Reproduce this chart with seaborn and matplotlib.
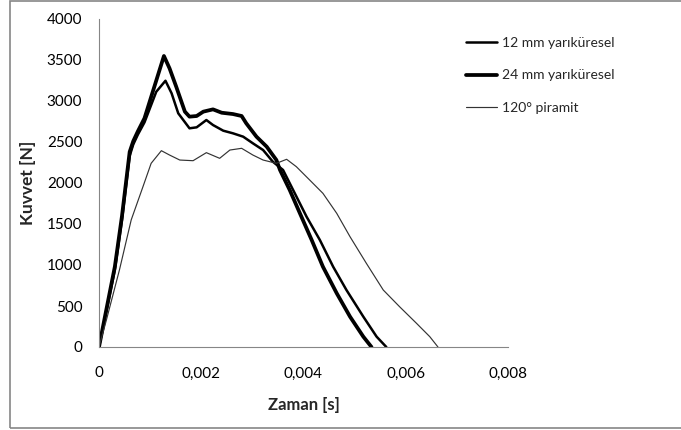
import matplotlib
matplotlib.use("Agg")
import matplotlib.pyplot as plt
import seaborn as sns
import pandas as pd
from matplotlib.patches import Rectangle

# ---- data ----
t_12 = [0, 0.00011, 0.00031, 0.00045, 0.0006, 0.00067, 0.00076, 0.00089, 0.00112, 0.0013,
        0.00142, 0.00155, 0.00177, 0.00191, 0.0021, 0.00223, 0.00243, 0.00262, 0.00282,
        0.00301, 0.00321, 0.0034, 0.0036, 0.00383, 0.00406, 0.00432, 0.00458, 0.00484,
        0.00517, 0.00543, 0.00562]
f_12 = [0, 330, 940, 1550, 2330, 2470, 2590, 2740, 3113, 3247,
        3094, 2850, 2667, 2679, 2768, 2707, 2638, 2606, 2565,
        2484, 2402, 2260, 2159, 1874, 1589, 1305, 979, 695,
        370, 126, 0]

t_24 = [0, 0.00011, 0.00031, 0.00045, 0.0006, 0.00067, 0.00076, 0.00089, 0.00127, 0.00138,
        0.00151, 0.00168, 0.00177, 0.00191, 0.00204, 0.00223, 0.0024, 0.00262, 0.00279,
        0.00288, 0.00308, 0.00328, 0.00347, 0.00354, 0.00373, 0.00393, 0.00416, 0.00438,
        0.00465, 0.00491, 0.00517, 0.00533]
f_24 = [0, 350, 980, 1600, 2380, 2510, 2630, 2790, 3549, 3398,
        3175, 2870, 2809, 2817, 2870, 2898, 2857, 2841, 2817,
        2728, 2565, 2443, 2280, 2159, 1915, 1630, 1305, 979,
        655, 370, 126, 0]

t_pyr = [0, 0.000145, 0.0004, 0.00063, 0.00086, 0.00102, 0.00122, 0.00138, 0.00158,
         0.00184, 0.0021, 0.00236, 0.00256, 0.00279, 0.00301, 0.00321, 0.00347, 0.00367,
         0.00386, 0.00412, 0.00438, 0.00465, 0.00491, 0.00523, 0.00556, 0.00588, 0.00621,
         0.00647, 0.00663]
f_pyr = [0, 330, 940, 1550, 1955, 2240, 2394, 2341, 2280,
         2272, 2370, 2301, 2402, 2423, 2341, 2280, 2240, 2289,
         2199, 2037, 1874, 1630, 1345, 1020, 695, 491, 289,
         126, 0]

series_names = ["12 mm yarıküresel", "24 mm yarıküresel", "120° piramit"]
x_ticks = [0, 0.002, 0.004, 0.006, 0.008]
x_tick_labels = ["0", "0,002", "0,004", "0,006", "0,008"]
y_ticks = [0, 500, 1000, 1500, 2000, 2500, 3000, 3500, 4000]
y_tick_labels = ["0", "500", "1000", "1500", "2000", "2500", "3000", "3500", "4000"]

sns.set_style("white")
plt.rcParams["font.family"] = ["Lato", "DejaVu Sans"]

fig = plt.figure(figsize=(6.81, 4.30), dpi=100)
ax = fig.add_axes([99/681, 83/430, 409/681, 328/430])

styles = [("black", 1.8), ("black", 2.7), ("#333333", 0.85)]
for (t, f), name, (c, lw) in zip([(t_12, f_12), (t_24, f_24), (t_pyr, f_pyr)], series_names, styles):
    df = pd.DataFrame({"t": t, "f": f})
    sns.lineplot(data=df, x="t", y="f", sort=False, color=c, linewidth=lw, label=name, ax=ax)

ax.set_xlim(0, 0.008)
ax.set_ylim(0, 4000)
ax.set_xticks(x_ticks)
ax.set_xticklabels(x_tick_labels)
ax.set_yticks(y_ticks)
ax.set_yticklabels(y_tick_labels)
ax.tick_params(axis="both", direction="out", length=5, width=0.8, color="#868686",
               labelsize=11, labelcolor="black")
ax.tick_params(axis="x", pad=9)
ax.tick_params(axis="y", pad=7)
for s in ["top", "right"]:
    ax.spines[s].set_visible(False)
for s in ["left", "bottom"]:
    ax.spines[s].set_color("#868686")
    ax.spines[s].set_linewidth(0.8)

ax.set_xlabel("Zaman [s]", fontsize=12, fontweight="bold", labelpad=12)
ax.set_ylabel("Kuvvet [N]", fontsize=12.5, fontweight="bold", labelpad=8)

leg = ax.legend(loc="upper left", bbox_to_anchor=(466/681, (430-37)/430), bbox_transform=fig.transFigure,
                frameon=False, fontsize=10, handlelength=2.2, handletextpad=0.4,
                labelspacing=1.47, borderaxespad=0, borderpad=0)

fig.patches.append(Rectangle((10/681, 2/430), 700/681, 427/430, transform=fig.transFigure,
                             fill=False, edgecolor="#868686", linewidth=1.2))

fig.savefig("out.png", dpi=100)
